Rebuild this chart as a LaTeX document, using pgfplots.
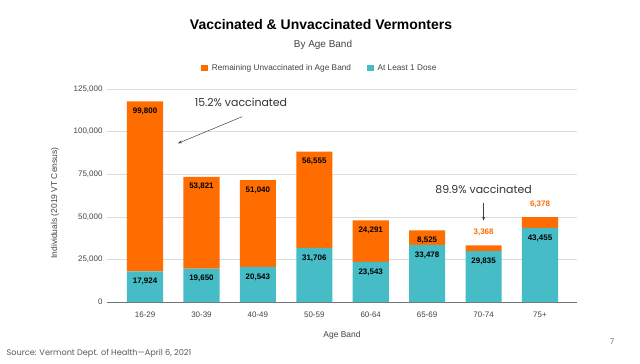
\documentclass[border=0pt]{standalone}
\usepackage{fontspec}
\setmainfont{Liberation Sans}
\newfontfamily\pop{Poppins}
\usepackage{pgfplots}
\usepackage{pgfplotstable}
\pgfplotsset{compat=1.18}
\usetikzlibrary{arrows.meta}
\definecolor{vorange}{HTML}{FF6D01}
\definecolor{vteal}{HTML}{46BDC6}
\definecolor{txtgray}{HTML}{444444}
\pgfkeys{/pgf/number format/.cd,fixed,precision=0,1000 sep={,},assume math mode=true}
\pgfplotstableread{
x teal un tot
0 17924 99800 117724
1 19650 53821 73471
2 20543 51040 71583
3 31706 56555 88261
4 23543 24291 47834
5 33478 8525 42003
6 29835 3368 33203
7 43455 6378 49833
}\data
\pgfplotsset{
  geom/.style={at={(107bp,61bp)}, anchor=south west,
    scale only axis, width=470bp, height=213bp,
    xmin=-0.674, xmax=7.656, ymin=0, ymax=125000},
}
\tikzset{lbl/.style={font=\bfseries\fontsize{8}{10}\selectfont, text=black, anchor=center}}
\begin{document}
\begin{tikzpicture}[x=1bp,y=1bp]
\path[use as bounding box, fill=white] (0,0) rectangle (640,363);
\begin{axis}[geom,
  ybar stacked, bar width=0.64,
  xtick=data, xticklabels={16-29,30-39,40-49,50-59,60-64,65-69,70-74,75+},
  ytick={0,25000,50000,75000,100000,125000},
  yticklabels={0,{25,000},{50,000},{75,000},{100,000},{125,000}},
  scaled y ticks=false,
  major tick length=0pt,
  axis x line*=bottom, axis y line*=left,
  y axis line style={draw=none},
  x axis line style={draw=black!55, line width=0.7pt},
  ymajorgrids, grid style={draw=black!14, line width=0.6pt},
  tick label style={font=\fontsize{8}{10}\selectfont, text=txtgray},
  xticklabel style={yshift=-6bp},
  yticklabel style={xshift=-1bp},
  legend style={at={(0.455,1.099)}, anchor=center, draw=none, fill=none,
    font=\fontsize{8.3}{10}\selectfont, text=txtgray, legend columns=2,
    /tikz/every even column/.append style={column sep=12bp},
    nodes={inner xsep=4bp}},
  legend image code/.code={\fill[#1] (0bp,-3.2bp) rectangle (6.5bp,3.2bp);},
  reverse legend,
]
\addplot[fill=vteal, draw=none] table[x=x, y=teal] {\data};
\addlegendentry{At Least 1 Dose}
\addplot[fill=vorange, draw=none] table[x=x, y=un] {\data};
\addlegendentry{Remaining Unvaccinated in Age Band}
\end{axis}
\begin{axis}[geom, hide axis, clip=false, point meta=explicit,
  nodes near coords={\pgfmathprintnumber{\pgfplotspointmeta}}]
\addplot[only marks, mark=none, nodes near coords style={lbl, yshift=-10bp}]
  table[x=x, y=teal, meta=teal] {\data};
\addplot[only marks, mark=none, restrict x to domain=-1:5.5,
  nodes near coords style={lbl, yshift=-10bp}]
  table[x=x, y=tot, meta=un] {\data};
\addplot[only marks, mark=none, restrict x to domain=5.5:8,
  nodes near coords style={lbl, text=vorange, yshift=13bp}]
  table[x=x, y=tot, meta=un] {\data};
\draw[black!75, line width=0.5pt, -{Stealth[length=4bp,width=3bp]}] (axis cs:1.72,108744) -- (axis cs:0.585,93134);
\node[font=\pop\fontsize{11}{13}\selectfont, text=black!80] at (axis cs:1.70,116960) {15.2\% vaccinated};
\draw[black!75, line width=0.5pt, -{Stealth[length=4bp,width=3bp]}] (axis cs:6,57923) -- (axis cs:6,47711);
\node[font=\pop\fontsize{11}{13}\selectfont, text=black!80] at (axis cs:6,66315) {89.9\% vaccinated};
\end{axis}
\node[font=\bfseries\fontsize{14}{16}\selectfont] at (321,338) {Vaccinated \& Unvaccinated Vermonters};
\node[font=\fontsize{10}{12}\selectfont, text=txtgray] at (323,318) {By Age Band};
\node[font=\fontsize{8.5}{10}\selectfont, text=txtgray, rotate=90] at (55,160) {Individuals (2019 VT Census)};
\node[font=\fontsize{8.5}{10}\selectfont, text=txtgray] at (342,28) {Age Band};
\node[font=\pop\fontsize{8}{10}\selectfont, text=black!55] at (612,21) {7};
\node[font=\pop\fontsize{8.2}{10}\selectfont, text=black!65, anchor=west] at (3,10) {Source: Vermont Dept. of Health—April 6, 2021};
\end{tikzpicture}
\end{document}
